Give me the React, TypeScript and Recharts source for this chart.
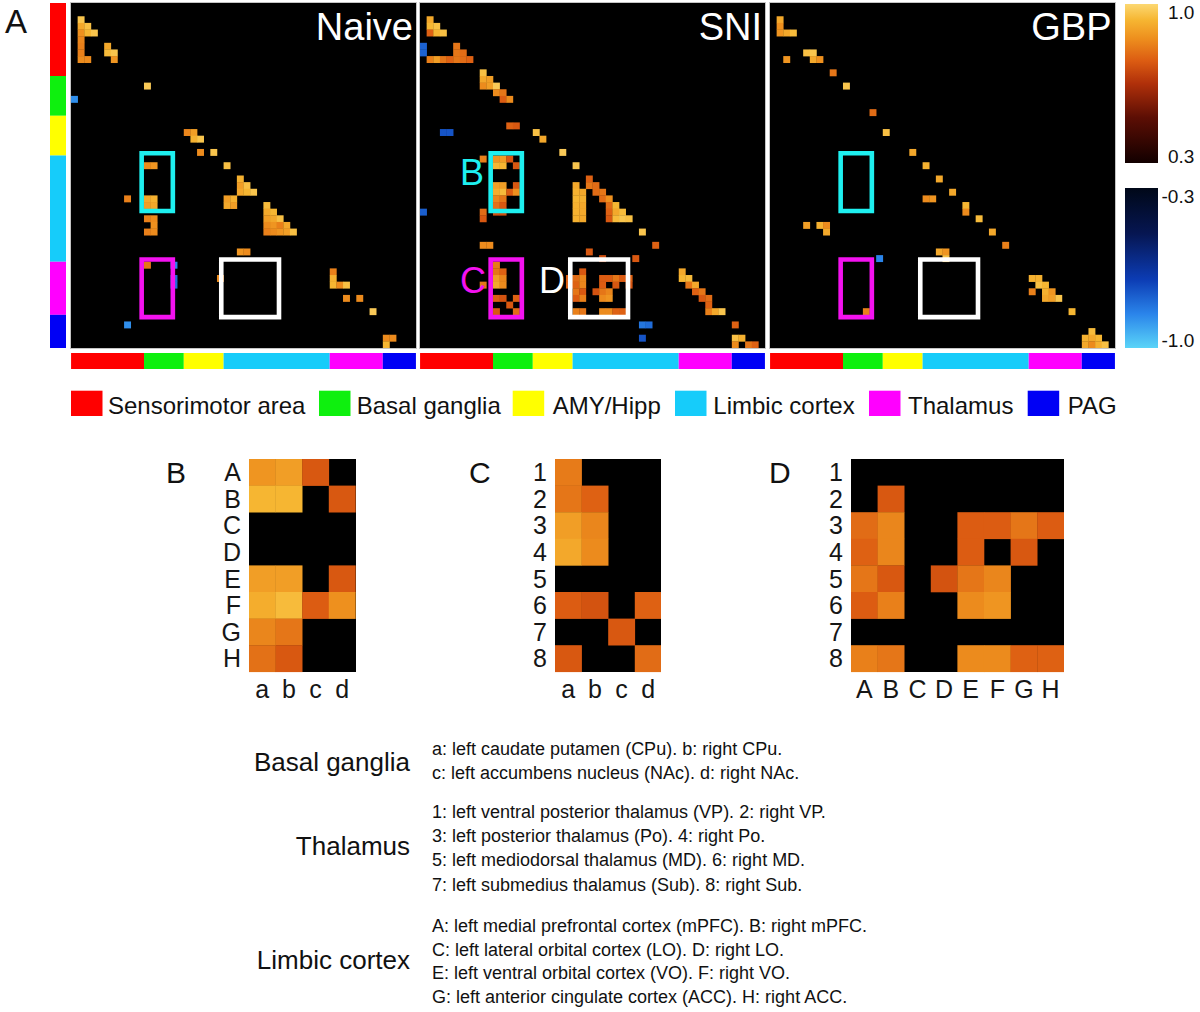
import React from 'react';
import { ScatterChart, Scatter, XAxis, YAxis, ReferenceArea, BarChart, Bar } from 'recharts';

const FONT = '"Liberation Sans", Arial, Helvetica, sans-serif';

// ---------- region structure ----------
const N = 52;
const regionNames = ['Sensorimotor area', 'Basal ganglia', 'AMY/Hipp', 'Limbic cortex', 'Thalamus', 'PAG'];
const regionSizes = [11, 6, 6, 16, 8, 5];
const regionColors = ['#ff0000', '#0ef00e', '#ffff00', '#16ccfa', '#ff00ff', '#0000f5'];
const matrixTitles = ['Naive', 'SNI', 'GBP'];

// ---------- matrix cells [row, col, r] ----------
type Cell = [number, number, number];
const naiveCells: Cell[] = [
  [2, 1, 0.96], [3, 1, 0.9], [3, 2, 0.95], [4, 1, 0.85], [4, 2, 0.93], [4, 3, 0.96],
  [5, 1, 0.83], [6, 1, 0.82], [6, 5, 0.9], [7, 1, 0.82], [7, 5, 0.94], [7, 6, 0.96],
  [8, 1, 0.84], [8, 2, 0.84], [8, 6, 0.86],
  [12, 11, 0.97], [14, 0, -0.87],
  [19, 17, 0.83], [19, 18, 0.88], [20, 18, 0.92], [20, 19, 0.96],
  [22, 19, 0.84], [22, 21, 0.96], [24, 23, 0.95],
  [24, 11, 0.84], [24, 12, 0.86],
  [26, 25, 0.92], [27, 25, 0.88], [27, 26, 0.95], [28, 25, 0.9], [28, 26, 0.93], [28, 27, 0.96],
  [29, 8, 0.82], [29, 11, 0.9], [29, 12, 0.92], [30, 11, 0.88], [30, 12, 0.9],
  [29, 23, 0.88], [29, 24, 0.92], [30, 23, 0.9], [30, 24, 0.88],
  [30, 29, 0.94], [31, 29, 0.9], [31, 30, 0.93],
  [32, 29, 0.88], [32, 30, 0.9], [32, 31, 0.95],
  [33, 29, 0.84], [33, 30, 0.86], [33, 31, 0.82], [33, 32, 0.9],
  [34, 29, 0.82], [34, 30, 0.84], [34, 31, 0.86], [34, 32, 0.88], [34, 33, 0.95],
  [32, 11, 0.82], [32, 12, 0.84], [33, 12, 0.85], [34, 11, 0.82], [34, 12, 0.84],
  [37, 25, 0.86], [37, 26, 0.84],
  [39, 11, 0.8], [39, 15, -0.85], [41, 15, -0.8], [42, 15, -0.8], [41, 22, 0.84],
  [40, 39, 0.82], [41, 39, 0.92], [42, 39, 0.93], [42, 40, 0.84], [42, 41, 0.95],
  [44, 41, 0.84], [44, 43, 0.84], [46, 45, 0.97], [48, 8, -0.87],
  [50, 47, 0.84], [50, 48, 0.84], [51, 47, 0.93],
];

const sniCells: Cell[] = [
  [2, 1, 0.9], [3, 1, 0.93], [3, 2, 0.95], [4, 1, 0.76], [4, 2, 0.93], [4, 3, 0.95],
  [6, 0, -0.78], [7, 0, -0.78], [6, 5, 0.8], [7, 5, 0.8], [7, 6, 0.78],
  [8, 1, 0.82], [8, 2, 0.88], [8, 3, 0.8], [8, 4, 0.76], [8, 5, 0.8], [8, 6, 0.78], [8, 7, 0.76],
  [10, 9, 0.95], [11, 9, 0.9], [11, 10, 0.88], [12, 9, 0.84], [12, 10, 0.88], [12, 11, 0.97],
  [13, 11, 0.84], [13, 12, 0.8], [14, 12, 0.75], [14, 13, 0.84],
  [18, 13, 0.76], [18, 14, 0.74], [19, 3, -0.75], [19, 4, -0.75],
  [19, 17, 0.95], [20, 18, 0.9], [22, 21, 0.97], [24, 23, 0.96],
  [23, 9, 0.82], [31, 9, 0.78], [32, 9, 0.74], [31, 0, -0.77], [31, 11, 0.72], [31, 12, 0.72],
  [26, 25, 0.76],
  [27, 23, 0.9], [27, 25, 0.8], [27, 26, 0.78],
  [28, 23, 0.92], [28, 24, 0.9], [28, 26, 0.78], [28, 27, 0.8],
  [29, 23, 0.93], [29, 24, 0.92], [29, 27, 0.78], [29, 28, 0.85],
  [30, 23, 0.92], [30, 24, 0.9], [30, 28, 0.78], [30, 29, 0.93],
  [31, 23, 0.92], [31, 24, 0.9], [31, 28, 0.76], [31, 29, 0.9], [31, 30, 0.94],
  [32, 23, 0.92], [32, 24, 0.9], [32, 28, 0.74], [32, 29, 0.94], [32, 30, 0.96], [32, 31, 0.95],
  [34, 33, 0.96], [36, 35, 0.76], [36, 9, 0.84], [36, 10, 0.84], [37, 25, 0.74],
  [38, 27, 0.72], [38, 32, 0.74],
  [41, 22, 0.76], [42, 22, 0.76], [42, 9, 0.8], [41, 31, 0.76], [42, 31, 0.73],
  [40, 39, 0.9], [41, 39, 0.93], [41, 40, 0.94], [42, 40, 0.8], [42, 41, 0.9],
  [43, 41, 0.76], [43, 42, 0.8], [44, 42, 0.74], [44, 43, 0.78], [45, 43, 0.76],
  [46, 43, 0.82], [46, 44, 0.9], [46, 45, 0.96],
  [48, 33, -0.82], [48, 34, -0.8], [50, 33, -0.75], [48, 47, 0.76],
  [50, 47, 0.95], [50, 48, 0.92], [51, 47, 0.84], [51, 49, 0.8], [51, 50, 0.76],
];

const gbpCells: Cell[] = [
  [2, 1, 0.9], [3, 1, 0.85], [4, 1, 0.86], [4, 2, 0.9], [4, 3, 0.94],
  [8, 2, 0.86], [7, 5, 0.95], [7, 6, 0.96], [8, 6, 0.9], [8, 7, 0.85],
  [10, 9, 0.8], [12, 11, 0.96], [16, 15, 0.78], [19, 17, 0.95], [22, 21, 0.9],
  [24, 23, 0.92], [26, 25, 0.9], [28, 27, 0.9], [29, 23, 0.84], [29, 24, 0.86],
  [30, 29, 0.93], [31, 29, 0.84], [32, 31, 0.94],
  [33, 5, 0.88], [33, 7, 0.92], [33, 8, 0.84], [34, 8, 0.9],
  [34, 33, 0.9], [36, 35, 0.82], [37, 25, 0.9], [37, 26, 0.86], [38, 26, 0.95],
  [38, 16, -0.85], [46, 14, 0.82],
  [41, 39, 0.92], [41, 40, 0.92], [42, 40, 0.95], [42, 41, 0.93],
  [43, 39, 0.82], [43, 41, 0.92], [43, 42, 0.86],
  [44, 41, 0.9], [44, 42, 0.88], [44, 43, 0.96], [46, 45, 0.93],
  [49, 48, 0.94], [50, 47, 0.92], [50, 48, 0.9], [50, 49, 0.93],
  [51, 47, 0.9], [51, 48, 0.84], [51, 49, 0.92], [51, 50, 0.95],
];

// ---------- sub-matrices ----------
const basalLabels = ['a', 'b', 'c', 'd'];
const thalamusLabels = ['1', '2', '3', '4', '5', '6', '7', '8'];
const limbicLabels = ['A', 'B', 'C', 'D', 'E', 'F', 'G', 'H'];

const panelB: number[][] = [
  [0.86, 0.88, 0.74, 0],
  [0.93, 0.93, 0, 0.74],
  [0, 0, 0, 0],
  [0, 0, 0, 0],
  [0.88, 0.88, 0, 0.74],
  [0.91, 0.94, 0.75, 0.85],
  [0.83, 0.8, 0, 0],
  [0.79, 0.74, 0, 0],
];
const panelC: number[][] = [
  [0.81, 0, 0, 0],
  [0.8, 0.76, 0, 0],
  [0.88, 0.83, 0, 0],
  [0.9, 0.84, 0, 0],
  [0, 0, 0, 0],
  [0.75, 0.73, 0, 0.76],
  [0, 0, 0.74, 0],
  [0.74, 0, 0, 0.78],
];
const panelD: number[][] = [
  [0, 0, 0, 0, 0, 0, 0, 0],
  [0, 0.74, 0, 0, 0, 0, 0, 0],
  [0.78, 0.83, 0, 0, 0.75, 0.75, 0.8, 0.75],
  [0.76, 0.83, 0, 0, 0.75, 0, 0.74, 0],
  [0.8, 0.74, 0, 0.73, 0.8, 0.83, 0, 0],
  [0.75, 0.82, 0, 0, 0.84, 0.86, 0, 0],
  [0, 0, 0, 0, 0, 0, 0, 0],
  [0.82, 0.8, 0, 0, 0.84, 0.84, 0.76, 0.76],
];

const colorbarTicks = ['1.0', '0.3', '-0.3', '-1.0'];

const descTitles = ['Basal ganglia', 'Thalamus', 'Limbic cortex'];
const descBasal = ['a: left caudate putamen (CPu). b: right CPu.', 'c: left accumbens nucleus (NAc). d: right NAc.'];
const descThalamus = [
  '1: left ventral posterior thalamus (VP). 2: right VP.',
  '3: left posterior thalamus (Po). 4: right Po.',
  '5: left mediodorsal thalamus (MD). 6: right MD.',
  '7: left submedius thalamus (Sub). 8: right Sub.',
];
const descLimbic = [
  'A: left medial prefrontal cortex (mPFC). B: right mPFC.',
  'C: left lateral orbital cortex (LO). D: right LO.',
  'E: left ventral orbital cortex (VO). F: right VO.',
  'G: left anterior cingulate cortex (ACC). H: right ACC.',
];

// ---------- derived ----------
const regionStart = regionSizes.map((_, i) => regionSizes.slice(0, i).reduce((a, b) => a + b, 0));
const basalStart = regionStart[1];
const limbicStart = regionStart[3];
const thalStart = regionStart[4];

const boxes = [
  { r0: limbicStart, nr: limbicLabels.length, c0: basalStart, nc: basalLabels.length, color: '#1ef0f0', label: 'B', values: panelB },
  { r0: thalStart, nr: thalamusLabels.length, c0: basalStart, nc: basalLabels.length, color: '#f412f0', label: 'C', values: panelC },
  { r0: thalStart, nr: thalamusLabels.length, c0: limbicStart, nc: limbicLabels.length, color: '#ffffff', label: 'D', values: panelD },
];

const boxCells: Cell[] = boxes.flatMap((b) =>
  b.values.flatMap((row, i) => row.map((v, j) => [b.r0 + i, b.c0 + j, v] as Cell)).filter((c) => c[2] !== 0)
);
const matrices: Cell[][] = [naiveCells, [...sniCells, ...boxCells], gbpCells];

// ---------- colour maps ----------
const posStops: [number, string][] = [
  [0.3, '#120000'], [0.5, '#5c0e04'], [0.65, '#b0300a'], [0.75, '#dc5c12'],
  [0.85, '#ee901e'], [0.93, '#f6b632'], [1.0, '#fcd872'],
];
const negStops: [number, string][] = [
  [0.3, '#000818'], [0.5, '#061652'], [0.7, '#0c3cb4'], [0.85, '#2a84ea'], [1.0, '#5ad4f8'],
];
function hex(c: string) {
  return [1, 3, 5].map((i) => parseInt(c.slice(i, i + 2), 16));
}
function interp(stops: [number, string][], a: number) {
  if (a <= stops[0][0]) return stops[0][1];
  for (let i = 1; i < stops.length; i++) {
    if (a <= stops[i][0]) {
      const t = (a - stops[i - 1][0]) / (stops[i][0] - stops[i - 1][0]);
      const c0 = hex(stops[i - 1][1]);
      const c1 = hex(stops[i][1]);
      const m = c0.map((v, k) => Math.round(v + (c1[k] - v) * t));
      return `rgb(${m[0]},${m[1]},${m[2]})`;
    }
  }
  return stops[stops.length - 1][1];
}
function colorFor(v: number) {
  return v >= 0 ? interp(posStops, v) : interp(negStops, -v);
}

// ---------- layout ----------
const MAT = 345;
const MAT_TOP = 3.3;
const CELL = MAT / N;
const matLefts = [71, 420, 769.5];
const BAR_TOP = 352.5;
const BAR_H = 16.6;
const PCELL = 26.6;
const PANEL_TOP = 459.3;
const YW = 40;
const XH = 48;

function Matrix({ left, cells }: { left: number; cells: Cell[] }) {
  const data = cells.map(([r, c, v]) => ({ x: c + 0.5, y: r + 0.5, v }));
  return (
    <div style={{ position: 'absolute', left, top: MAT_TOP, width: MAT, height: MAT, background: '#000', boxShadow: '0 0 0 1px #c4c4c4' }}>
      <ScatterChart width={MAT} height={MAT} margin={{ top: 0, right: 0, bottom: 0, left: 0 }}>
        <XAxis type="number" dataKey="x" domain={[0, N]} hide height={0} />
        <YAxis type="number" dataKey="y" domain={[0, N]} reversed hide width={0} />
        <Scatter
          data={data}
          isAnimationActive={false}
          shape={(p: any) => (
            <rect x={p.cx - CELL / 2} y={p.cy - CELL / 2} width={CELL + 0.3} height={CELL + 0.3} fill={colorFor(p.payload.v)} />
          )}
        />
        {boxes.map((b) => (
          <ReferenceArea
            key={b.label}
            x1={b.c0 - 0.35}
            x2={b.c0 + b.nc + 0.35}
            y1={b.r0 - 0.35}
            y2={b.r0 + b.nr + 0.35}
            fill="none"
            fillOpacity={0}
            stroke={b.color}
            strokeWidth={4.6}
            ifOverflow="visible"
            {...({ zIndex: 1000 } as any)}
          />
        ))}
      </ScatterChart>
    </div>
  );
}

function RegionBarH({ left }: { left: number }) {
  const row: any = { name: 'r' };
  regionSizes.forEach((s, i) => (row['s' + i] = s));
  return (
    <div style={{ position: 'absolute', left, top: BAR_TOP, width: MAT, height: BAR_H }}>
      <BarChart width={MAT} height={BAR_H} data={[row]} layout="vertical" margin={{ top: 0, right: 0, bottom: 0, left: 0 }} barCategoryGap={0}>
        <XAxis type="number" domain={[0, N]} hide height={0} />
        <YAxis type="category" dataKey="name" hide width={0} />
        {regionNames.map((n, i) => (
          <Bar key={n} dataKey={'s' + i} stackId="a" fill={regionColors[i]} isAnimationActive={false} />
        ))}
      </BarChart>
    </div>
  );
}

function RegionBarV() {
  const row: any = { name: 'r' };
  regionSizes.forEach((s, i) => (row['s' + i] = s));
  return (
    <div style={{ position: 'absolute', left: 50, top: MAT_TOP, width: 16, height: MAT }}>
      <BarChart width={16} height={MAT} data={[row]} margin={{ top: 0, right: 0, bottom: 0, left: 0 }} barCategoryGap={0}>
        <XAxis type="category" dataKey="name" hide height={0} />
        <YAxis type="number" domain={[0, N]} reversed hide width={0} />
        {regionNames.map((n, i) => (
          <Bar key={n} dataKey={'s' + i} stackId="a" fill={regionColors[i]} isAnimationActive={false} />
        ))}
      </BarChart>
    </div>
  );
}

function Panel({ left, values, rowLabels, colLabels }: { left: number; values: number[][]; rowLabels: string[]; colLabels: string[] }) {
  const nr = values.length;
  const nc = values[0].length;
  const data = values.flatMap((row, i) => row.map((v, j) => ({ x: j + 0.5, y: i + 0.5, v }))).filter((d) => d.v !== 0);
  const w = YW + nc * PCELL;
  const h = nr * PCELL + XH;
  const tickStyle = { fontSize: 25, fill: '#161616', fontFamily: FONT };
  return (
    <div style={{ position: 'absolute', left: left - YW, top: PANEL_TOP, width: w, height: h }}>
      <div style={{ position: 'absolute', left: YW, top: 0, width: nc * PCELL, height: nr * PCELL, background: '#000' }} />
      <div style={{ position: 'absolute', left: 0, top: 0 }}>
        <ScatterChart width={w} height={h} margin={{ top: 0, right: 0, bottom: 0, left: 0 }}>
          <XAxis
            type="number"
            dataKey="x"
            domain={[0, nc]}
            ticks={colLabels.map((_, i) => i + 0.5)}
            tickFormatter={(t: number) => colLabels[Math.floor(t)]}
            interval={0}
            axisLine={false}
            tickLine={false}
            tick={tickStyle}
            height={XH}
          />
          <YAxis
            type="number"
            dataKey="y"
            domain={[0, nr]}
            reversed
            ticks={rowLabels.map((_, i) => i + 0.5)}
            tickFormatter={(t: number) => rowLabels[Math.floor(t)]}
            interval={0}
            axisLine={false}
            tickLine={false}
            tick={tickStyle}
            width={YW}
          />
          <Scatter
            data={data}
            isAnimationActive={false}
            shape={(p: any) => (
              <rect x={p.cx - PCELL / 2} y={p.cy - PCELL / 2} width={PCELL + 0.3} height={PCELL + 0.3} fill={colorFor(p.payload.v)} />
            )}
          />
        </ScatterChart>
      </div>
    </div>
  );
}

function gradStops(stops: [number, string][], from: number, to: number) {
  return stops.map(([a, c]) => <stop key={a} offset={`${((a - from) / (to - from)) * 100}%`} stopColor={c} />);
}

export default function App() {
  const legendSquares = [71, 319, 512.7, 675, 869, 1027.7];
  const legendText = [108, 356.7, 552.7, 713.3, 908, 1067.7];
  return (
    <div style={{ position: 'absolute', left: 0, top: 0, width: 1200, height: 1012, background: '#fff', fontFamily: FONT, overflow: 'hidden' }}>
      <RegionBarV />
      {matrices.map((cells, i) => (
        <Matrix key={i} left={matLefts[i]} cells={cells} />
      ))}
      {matLefts.map((l, i) => (
        <RegionBarH key={i} left={l} />
      ))}
      <Panel left={249.3} values={panelB} rowLabels={limbicLabels} colLabels={basalLabels} />
      <Panel left={555} values={panelC} rowLabels={thalamusLabels} colLabels={basalLabels} />
      <Panel left={851} values={panelD} rowLabels={thalamusLabels} colLabels={limbicLabels} />

      <svg width={1200} height={1012} style={{ position: 'absolute', left: 0, top: 0, pointerEvents: 'none' }} fontFamily={FONT}>
        <defs>
          <linearGradient id="posGrad" x1="0" y1="1" x2="0" y2="0">
            {gradStops(posStops, 0.3, 1.0)}
          </linearGradient>
          <linearGradient id="negGrad" x1="0" y1="0" x2="0" y2="1">
            {gradStops(negStops, 0.3, 1.0)}
          </linearGradient>
        </defs>
        <text x={5} y={33} fontSize={33} fill="#111">A</text>
        {matrixTitles.map((t, i) => (
          <text key={t} x={matLefts[i] + MAT - 3} y={40} fontSize={38} fill="#fff" textAnchor="end">{t}</text>
        ))}
        {boxes.map((b) => (
          <text key={b.label} x={b.label === 'D' ? 539 : 460} y={b.label === 'B' ? 185 : 293} fontSize={36} fill={b.color}>{b.label}</text>
        ))}
        <rect x={1125} y={4} width={33} height={159} fill="url(#posGrad)" />
        <rect x={1125} y={188} width={33} height={160} fill="url(#negGrad)" />
        <text x={1168} y={18.5} fontSize={19} fill="#111">{colorbarTicks[0]}</text>
        <text x={1168} y={163} fontSize={19} fill="#111">{colorbarTicks[1]}</text>
        <text x={1161.5} y={203} fontSize={19} fill="#111">{colorbarTicks[2]}</text>
        <text x={1161.5} y={346.5} fontSize={19} fill="#111">{colorbarTicks[3]}</text>

        {regionNames.map((n, i) => (
          <g key={n}>
            <rect x={legendSquares[i]} y={390.7} width={31.5} height={25.3} fill={regionColors[i]} />
            <text x={legendText[i]} y={414} fontSize={24} fill="#111">{n}</text>
          </g>
        ))}

        <text x={166} y={483} fontSize={30} fill="#111">B</text>
        <text x={469} y={483} fontSize={30} fill="#111">C</text>
        <text x={769} y={483} fontSize={30} fill="#111">D</text>

        <text x={410} y={771} fontSize={26} fill="#111" textAnchor="end">{descTitles[0]}</text>
        <text x={410} y={855} fontSize={26} fill="#111" textAnchor="end">{descTitles[1]}</text>
        <text x={410} y={969} fontSize={26} fill="#111" textAnchor="end">{descTitles[2]}</text>
        {descBasal.map((l, i) => (
          <text key={l} x={432} y={755 + i * 24} fontSize={18} fill="#111">{l}</text>
        ))}
        {descThalamus.map((l, i) => (
          <text key={l} x={432} y={818 + i * 24.2} fontSize={18} fill="#111">{l}</text>
        ))}
        {descLimbic.map((l, i) => (
          <text key={l} x={432} y={932 + i * 23.7} fontSize={18} fill="#111">{l}</text>
        ))}
      </svg>
    </div>
  );
}
